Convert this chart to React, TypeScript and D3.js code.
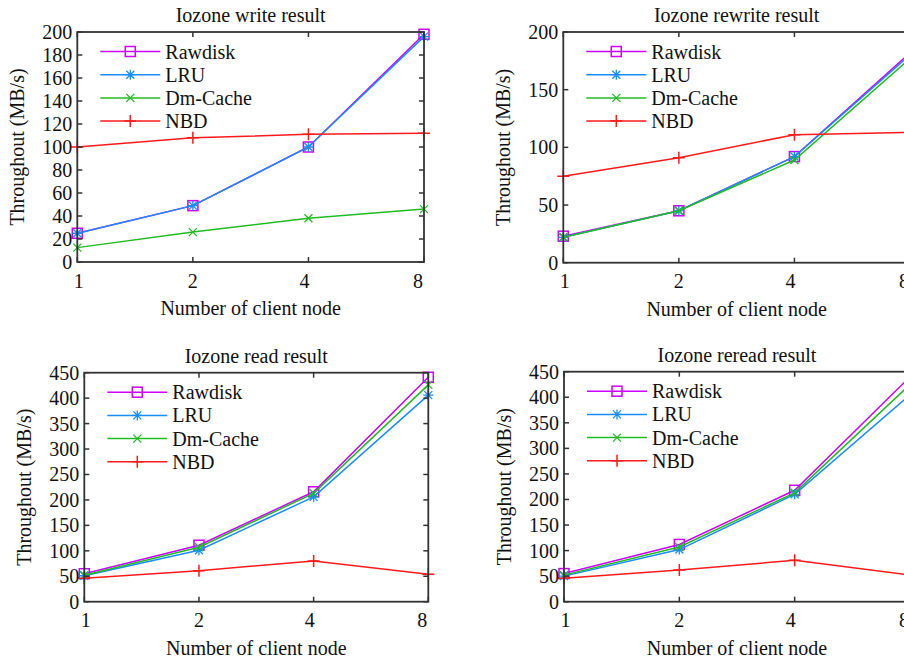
import React from 'react';
import * as d3 from 'd3';

// client node counts (log2 x axis)
const nodes = [1, 2, 4, 8];
const seriesNames = ['Rawdisk', 'LRU', 'Dm-Cache', 'NBD'];
const seriesColors = ['#cc00ff', '#1a8cff', '#22bb22', '#ff1a1a'];
const seriesMarkers = ['square', 'star', 'cross', 'plus'];

// write
const writeRawdisk = [25, 49, 100, 198];
const writeLru = [25, 49, 100, 196];
const writeDmCache = [12.5, 26, 38, 46];
const writeNbd = [100, 108, 111, 112];
const writeTicks = [0, 20, 40, 60, 80, 100, 120, 140, 160, 180, 200];

// rewrite
const rewriteRawdisk = [23, 45, 92, 182];
const rewriteLru = [22, 45, 92, 180];
const rewriteDmCache = [22, 45, 89, 177];
const rewriteNbd = [75, 91, 111, 113];
const rewriteTicks = [0, 50, 100, 150, 200];

// read
const readRawdisk = [55, 111, 216, 441];
const readLru = [51, 101, 206, 406];
const readDmCache = [52, 107, 213, 426];
const readNbd = [46, 61, 80, 54];
const readTicks = [0, 50, 100, 150, 200, 250, 300, 350, 400, 450];

// reread
const rereadRawdisk = [55, 112, 218, 440];
const rereadLru = [50, 102, 210, 405];
const rereadDmCache = [52, 107, 213, 425];
const rereadNbd = [46, 62, 81, 52];
const rereadTicks = [0, 50, 100, 150, 200, 250, 300, 350, 400, 450];

const FONT = "'Liberation Serif', 'DejaVu Serif', serif";
const FS = 20;

type Box = { left: number; top: number; right: number; bottom: number };

function Marker({ kind, x, y, color }: { kind: string; x: number; y: number; color: string }) {
  const r = 5;
  if (kind === 'square') {
    return <rect x={x - r} y={y - r} width={2 * r} height={2 * r} fill="none" stroke={color} strokeWidth={1.5} />;
  }
  if (kind === 'plus') {
    const p = 6;
    return (
      <path d={`M${x - p},${y}H${x + p}M${x},${y - p}V${y + p}`} stroke={color} strokeWidth={1.5} />
    );
  }
  const d = r * 0.8;
  const cross = `M${x - d},${y - d}L${x + d},${y + d}M${x - d},${y + d}L${x + d},${y - d}`;
  if (kind === 'cross') return <path d={cross} stroke={color} strokeWidth={1.3} />;
  return (
    <path d={`${cross}M${x},${y - r}V${y + r}M${x - r},${y}H${x + r}`} stroke={color} strokeWidth={1.3} />
  );
}

function Panel({ title, box, yTicks, series }: { title: string; box: Box; yTicks: number[]; series: number[][] }) {
  const x = d3.scaleLog().base(2).domain([1, 8]).range([box.left, box.right]);
  const y = d3.scaleLinear().domain([0, d3.max(yTicks) as number]).range([box.bottom, box.top]);
  const line = d3
    .line<number>()
    .x((_, i) => x(nodes[i]))
    .y(d => y(d));
  const tick = 5;
  const cx = (box.left + box.right) / 2;
  const cy = (box.top + box.bottom) / 2;
  // x labels sit slightly left of their ticks in the original
  const labelShift = (n: number) => (n === 1 ? 1.5 : n === 2 ? 0 : n === 4 ? -4 : -6);

  return (
    <g fontFamily={FONT} fontSize={FS} fill="#111">
      <text x={cx} y={box.top - 10} textAnchor="middle">{title}</text>

      {/* series lines, drawn back to front */}
      {series.map((vals, s) => (
        <g key={s}>
          <path d={line(vals) || ''} fill="none" stroke={seriesColors[s]} strokeWidth={1.5} />
          {vals.map((v, i) => (
            <Marker key={i} kind={seriesMarkers[s]} x={x(nodes[i])} y={y(v)} color={seriesColors[s]} />
          ))}
        </g>
      ))}

      {/* frame */}
      <rect
        x={box.left}
        y={box.top}
        width={box.right - box.left}
        height={box.bottom - box.top}
        fill="none"
        stroke="#333"
        strokeWidth={1.8}
      />
      {yTicks.map(t => (
        <g key={t}>
          <line x1={box.left} x2={box.left + tick} y1={y(t)} y2={y(t)} stroke="#333" strokeWidth={1.5} />
          <line x1={box.right} x2={box.right - tick} y1={y(t)} y2={y(t)} stroke="#333" strokeWidth={1.5} />
          <text x={box.left - 5} y={y(t)} dy="0.35em" textAnchor="end">{t}</text>
        </g>
      ))}
      {nodes.map(n => (
        <g key={n}>
          <line x1={x(n)} x2={x(n)} y1={box.bottom} y2={box.bottom - tick} stroke="#333" strokeWidth={1.5} />
          <line x1={x(n)} x2={x(n)} y1={box.top} y2={box.top + tick} stroke="#333" strokeWidth={1.5} />
          <text x={x(n) + labelShift(n)} y={box.bottom + 25.5} textAnchor="middle">{n}</text>
        </g>
      ))}

      <text x={cx} y={box.bottom + 53} textAnchor="middle">Number of client node</text>
      <text
        transform={`translate(${box.left - 60},${cy}) rotate(-90)`}
        dy="0.35em"
        textAnchor="middle"
      >
        Throughout (MB/s)
      </text>

      {/* legend */}
      {seriesNames.map((name, s) => {
        const ly = box.top + 19.5 + s * 23.2;
        const lx = box.left + 23;
        return (
          <g key={name}>
            <line x1={lx} x2={lx + 60} y1={ly} y2={ly} stroke={seriesColors[s]} strokeWidth={1.5} />
            <Marker kind={seriesMarkers[s]} x={lx + 30} y={ly} color={seriesColors[s]} />
            <text x={lx + 65} y={ly} dy="0.35em">{name}</text>
          </g>
        );
      })}
    </g>
  );
}

export default function App() {
  return (
    <svg
      width={904}
      height={663}
      style={{ position: 'absolute', left: 0, top: 0, background: '#fff' }}
    >
      <rect width={904} height={663} fill="#fff" />
      <Panel
        title="Iozone write result"
        box={{ left: 77.3, top: 32, right: 424, bottom: 262 }}
        yTicks={writeTicks}
        series={[writeRawdisk, writeLru, writeDmCache, writeNbd]}
      />
      <Panel
        title="Iozone rewrite result"
        box={{ left: 563.3, top: 32, right: 910, bottom: 262.7 }}
        yTicks={rewriteTicks}
        series={[rewriteRawdisk, rewriteLru, rewriteDmCache, rewriteNbd]}
      />
      <Panel
        title="Iozone read result"
        box={{ left: 84.3, top: 372.7, right: 428.3, bottom: 601.7 }}
        yTicks={readTicks}
        series={[readRawdisk, readLru, readDmCache, readNbd]}
      />
      <Panel
        title="Iozone reread result"
        box={{ left: 564, top: 371.7, right: 910, bottom: 601.7 }}
        yTicks={rereadTicks}
        series={[rereadRawdisk, rereadLru, rereadDmCache, rereadNbd]}
      />
    </svg>
  );
}
